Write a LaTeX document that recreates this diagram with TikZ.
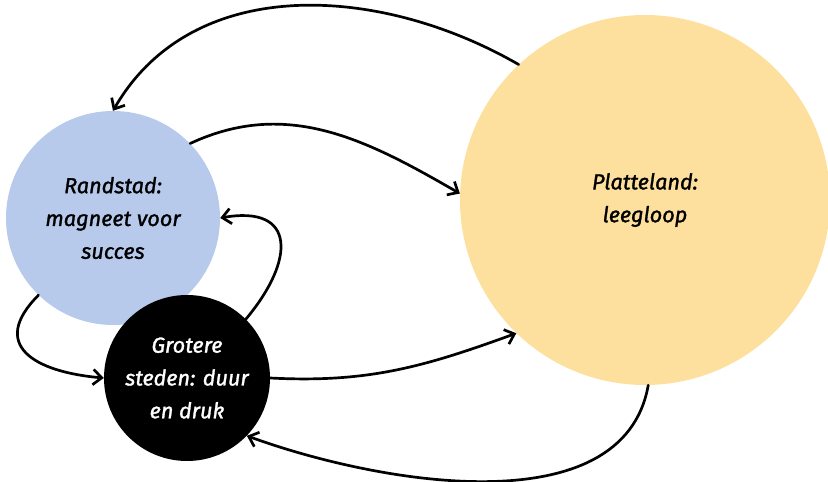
\documentclass[tikz,border=0pt]{standalone}
\usepackage{fontspec}
\setmainfont{Fira Sans}[ItalicFeatures={FakeBold=1.4}]
\usetikzlibrary{arrows.meta}

\begin{document}
\begin{tikzpicture}[x=0.03cm,y=-0.03cm]
\tikzset{
  areanode/.style={circle,draw=none,inner sep=0pt,align=center,font=\itshape\fontsize{18.5}{28}\selectfont},
  flowedge/.style={draw=black,line width=2.3pt,line cap=round,line join=round,-{Straight Barb[length=2.6mm,width=4.6mm,line width=2.3pt]}}
}
\useasboundingbox (0,0) rectangle (828,482);
\node[areanode,fill={rgb,255:red,183;green,202;blue,235},minimum size=6.42cm] (n_rand) at (113,218) {Randstad:\\magneet voor\\succes};
\node[areanode,fill=black,text=white,minimum size=4.98cm] (n_grot) at (187,378) {Grotere\\steden: duur\\en druk};
\node[areanode,fill={rgb,255:red,254;green,224;blue,158},minimum size=11.1cm] (n_plat) at (645,200) {Platteland:\\leegloop};
\draw[flowedge] (n_plat.133) to[out=150,in=60] (n_rand.90);
\draw[flowedge] (n_rand.44) to[out=25,in=150] (n_plat.178);
\draw[flowedge] (n_grot.45) to[out=50,in=10,looseness=1.9] (n_rand.0);
\draw[flowedge] (n_rand.226) to[out=225,in=175,looseness=1.7] (n_grot.180);
\draw[flowedge] (n_grot.0) to[out=-3,in=200] (n_plat.226);
\draw[flowedge] (n_plat.271) to[out=260,in=340,looseness=0.9] (n_grot.316);
\end{tikzpicture}
\end{document}
